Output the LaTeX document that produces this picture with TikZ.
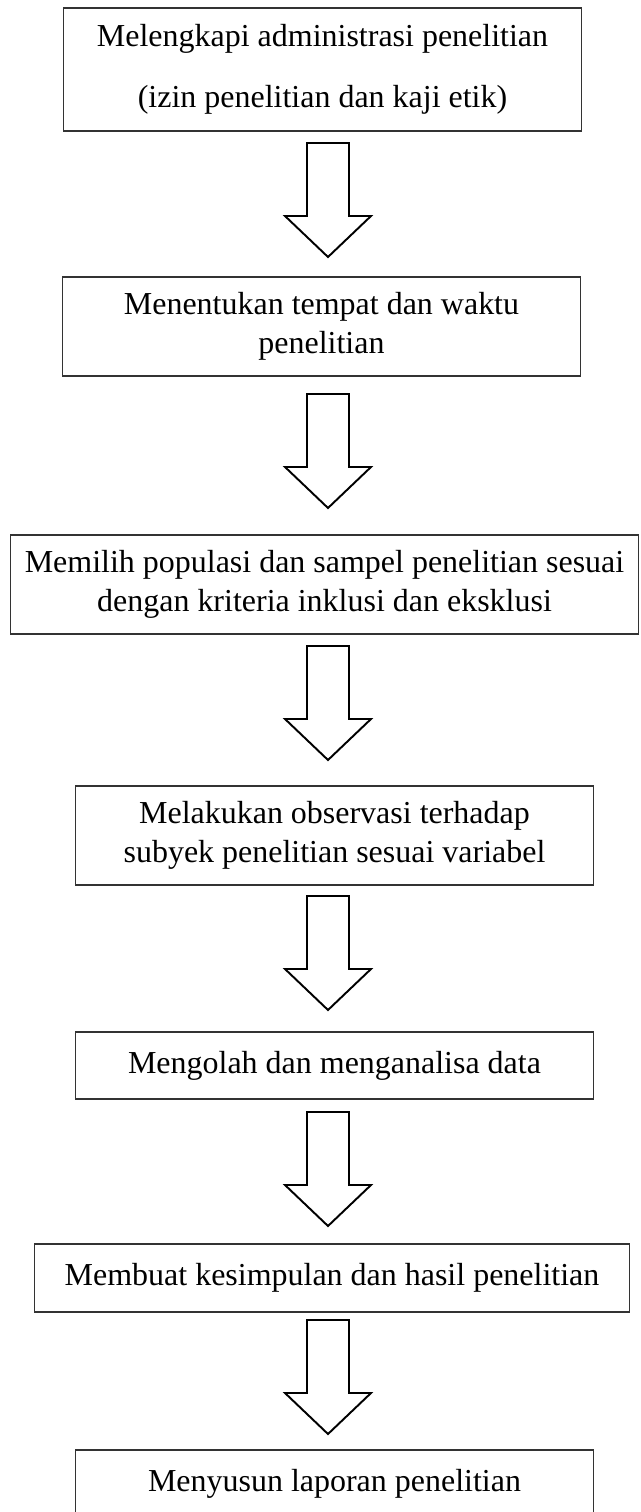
\documentclass[tikz,border=0pt]{standalone}
\usepackage{fontspec}
\setmainfont{Liberation Serif}
\usetikzlibrary{calc}

\begin{document}
\begin{tikzpicture}[x=0.02cm, y=-0.02cm,
  stepbox/.style={draw=black!80, line width=0.6pt, rectangle, align=center, inner sep=0pt, font=\fontsize{18.2}{22.2}\selectfont},
  blockarrow/.style={draw=black, line width=1.1pt, fill=white, line join=miter}]
  \useasboundingbox (0,0) rectangle (641,1512);
  \node[stepbox, minimum width=10.38cm, minimum height=2.46cm] (adm) at (322.5,69.5) {Melengkapi administrasi penelitian\\[12.4pt](izin penelitian dan kaji etik)};
  \node[stepbox, minimum width=10.38cm, minimum height=1.98cm] (lokasi) at (321.5,326.5) {Menentukan tempat dan waktu\\penelitian};
  \node[stepbox, minimum width=12.58cm, minimum height=1.98cm] (sampel) at (324.5,584.5) {Memilih populasi dan sampel penelitian sesuai\\dengan kriteria inklusi dan eksklusi};
  \node[stepbox, minimum width=10.38cm, minimum height=1.98cm] (observasi) at (334.5,835.5) {Melakukan observasi terhadap\\subyek penelitian sesuai variabel};
  \node[stepbox, minimum width=10.38cm, minimum height=1.34cm] (analisis) at (334.5,1065.5) {Mengolah dan menganalisa data};
  \node[stepbox, minimum width=11.92cm, minimum height=1.36cm] (simpulan) at (332,1278) {Membuat kesimpulan dan hasil penelitian};
  % last box runs off the page bottom
  \node[stepbox, minimum width=10.38cm, minimum height=1.6cm, text height=0.44cm, text depth=0.4cm] (laporan) at (334.5,1490) {Menyusun laporan penelitian};
  \foreach \i/\t in {1/143,2/394,3/646,4/896,5/1112,6/1320} {
    \coordinate (arr\i) at (328,\t);
    \draw[blockarrow] ($(arr\i)+(-21,0)$) -- ++(42,0) -- ++(0,73) -- ++(22,0) -- ++(-43,41) -- ++(-43,-41) -- ++(22,0) -- cycle;
  }
\end{tikzpicture}
\end{document}
